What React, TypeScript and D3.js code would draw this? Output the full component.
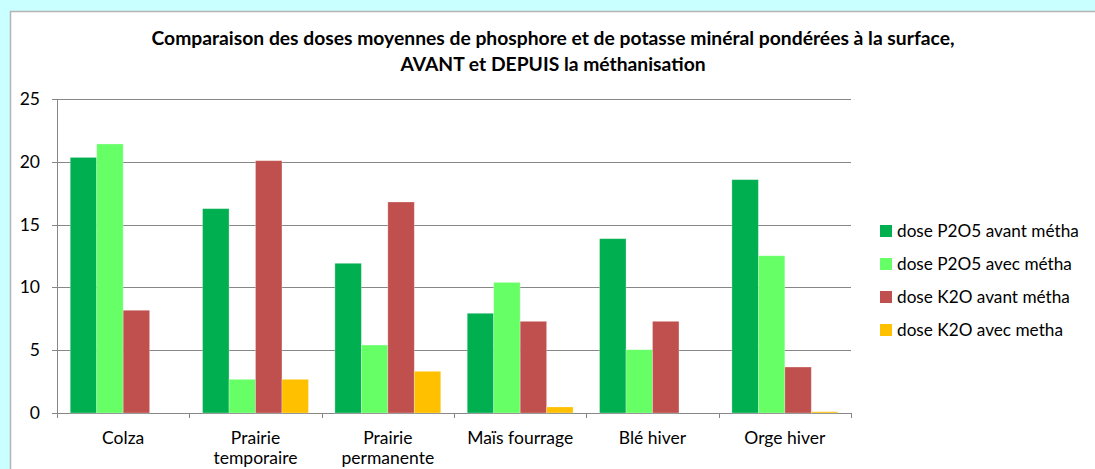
import React from "react";
import * as d3 from "d3";

const categories: string[][] = [
  ["Colza"],
  ["Prairie", "temporaire"],
  ["Prairie", "permanente"],
  ["Maïs fourrage"],
  ["Blé hiver"],
  ["Orge hiver"],
];
const seriesNames = [
  "dose P2O5 avant métha",
  "dose P2O5 avec métha",
  "dose K2O avant métha",
  "dose K2O avec metha",
];
const seriesColors = ["#00B050", "#66FF66", "#C0504D", "#FFC000"];
const p2o5Avant = [20.35, 16.27, 11.92, 7.94, 13.88, 18.58];
const p2o5Avec = [21.42, 2.68, 5.41, 10.4, 5.04, 12.52];
const k2oAvant = [8.18, 20.09, 16.8, 7.3, 7.3, 3.66];
const k2oAvec = [0, 2.68, 3.32, 0.48, 0, 0.1];
const yTicks = [0, 5, 10, 15, 20, 25];
const titleLines = [
  "Comparaison des doses moyennes de phosphore et de potasse minéral pondérées à la surface,",
  "AVANT et DEPUIS la méthanisation",
];

const W = 1095;
const H = 469;
const FONT = "Lato, 'Open Sans', sans-serif";

export default function App() {
  const series = [p2o5Avant, p2o5Avec, k2oAvant, k2oAvec];
  const x0 = d3
    .scaleBand<number>()
    .domain(d3.range(categories.length))
    .range([57, 851])
    .paddingInner(0)
    .paddingOuter(0);
  const x1 = d3
    .scaleBand<number>()
    .domain(d3.range(series.length))
    .range([0, x0.bandwidth()])
    .paddingInner(0)
    .paddingOuter(0.5);
  const y = d3.scaleLinear().domain([0, 25]).range([413, 99]);

  return (
    <div style={{ position: "fixed", left: 0, top: 0, width: W, height: H }}>
      <svg width={W} height={H} style={{ display: "block" }}>
        <rect x={0} y={0} width={W} height={H} fill="#C9FFFF" />
        <rect x={10.5} y={11.5} width={W} height={H} fill="#FFFFFF" stroke="#B4B4B4" strokeWidth={1.5} />
        {titleLines.map((t, i) => (
          <text
            key={i}
            x={553}
            y={45 + i * 26}
            textAnchor="middle"
            fontFamily={FONT}
            fontWeight="bold"
            fontSize={19.3}
            fill="#000"
          >
            {t}
          </text>
        ))}
        {yTicks.map((t) => (
          <g key={t}>
            <line x1={52} x2={851} y1={Math.round(y(t)) + 0.5} y2={Math.round(y(t)) + 0.5} stroke="#878787" strokeWidth={1} />
            <text x={40} y={y(t) + 6} textAnchor="end" fontFamily={FONT} fontSize={17.5} fill="#000">
              {t}
            </text>
          </g>
        ))}
        <line x1={57.5} x2={57.5} y1={99} y2={413} stroke="#878787" />
        {d3.range(categories.length + 1).map((i) => {
          const xx = i < categories.length ? x0(i)! : 851;
          return <line key={i} x1={Math.round(xx) + 0.5} x2={Math.round(xx) + 0.5} y1={413} y2={418} stroke="#878787" />;
        })}
        {series.map((vals, si) =>
          vals.map((v, ci) => (
            <rect
              key={`${si}-${ci}`}
              x={x0(ci)! + x1(si)!}
              y={y(v)}
              width={x1.bandwidth()}
              height={y(0) - y(v)}
              fill={seriesColors[si]}
              stroke="#FFFFFF"
              strokeOpacity={0.35}
              strokeWidth={0.8}
            />
          ))
        )}
        {categories.map((lines, ci) =>
          lines.map((l, li) => (
            <text
              key={`${ci}-${li}`}
              x={x0(ci)! + x0.bandwidth() / 2}
              y={444 + li * 20}
              textAnchor="middle"
              fontFamily={FONT}
              fontSize={17.5}
              fill="#000"
            >
              {l}
            </text>
          ))
        )}
        {seriesNames.map((n, i) => (
          <g key={n}>
            <rect x={880} y={225 + i * 33} width={12} height={12} fill={seriesColors[i]} />
            <text x={897} y={237 + i * 33} fontFamily={FONT} fontSize={17.2} fill="#000">
              {n}
            </text>
          </g>
        ))}
      </svg>
    </div>
  );
}
